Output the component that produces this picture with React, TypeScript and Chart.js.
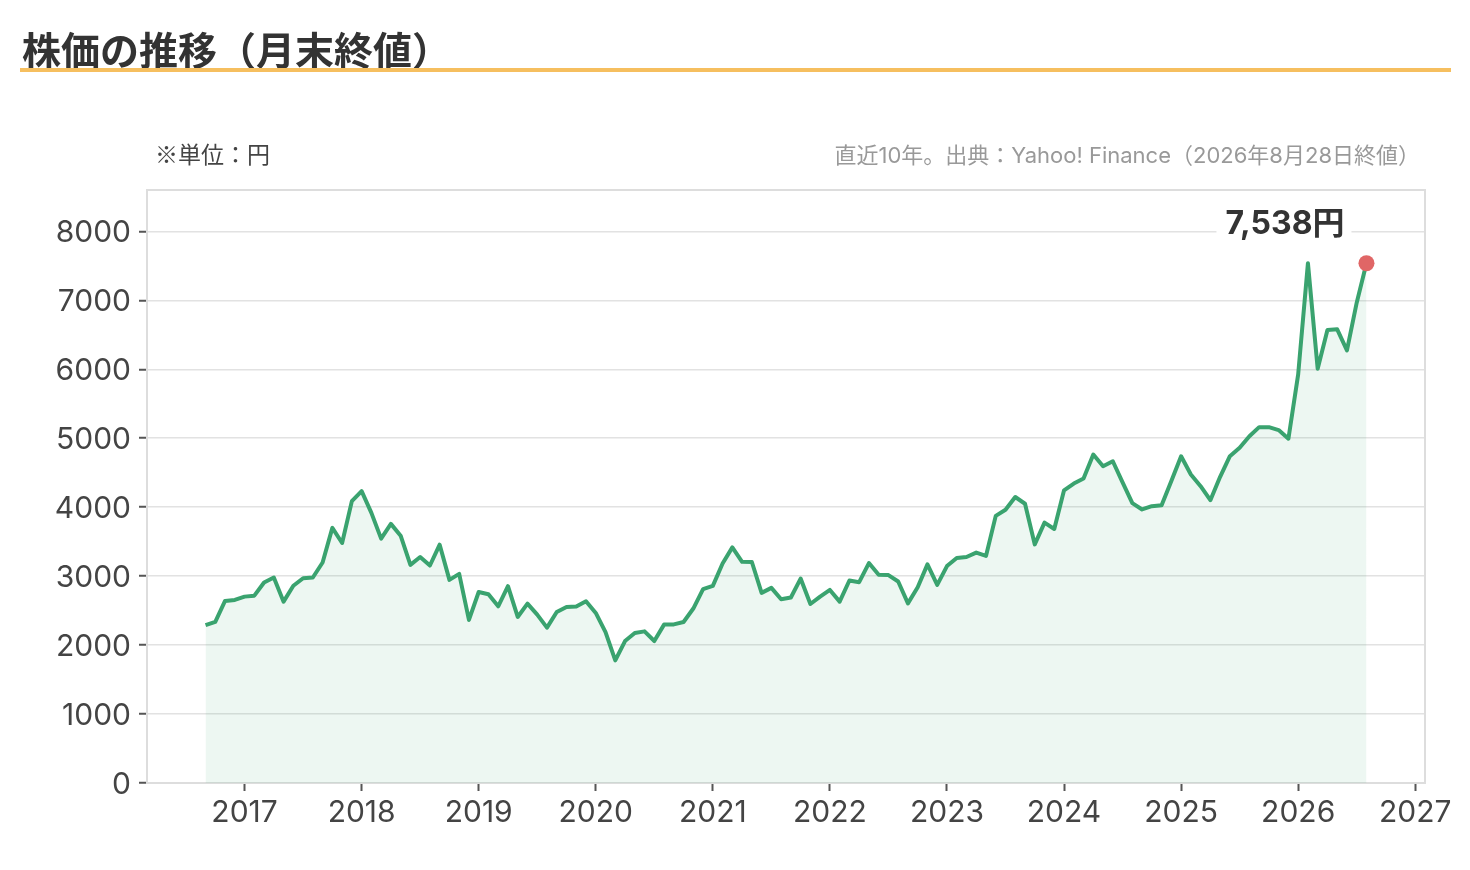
import { useEffect, useRef } from 'react'
import { Chart, registerables } from 'chart.js'

Chart.register(...registerables)

// 月末終値（円）。2016年は9月から
const FIRST_MONTH_2016 = 9
const close2016 = [2290, 2338, 2640, 2655]
const close2017 = [2703, 2717, 2907, 2980, 2630, 2860, 2970, 2980, 3198, 3700, 3481, 4088]
const close2018 = [4233, 3918, 3544, 3758, 3587, 3164, 3277, 3154, 3456, 2946, 3033, 2365]
const close2019 = [2770, 2738, 2563, 2854, 2408, 2602, 2442, 2253, 2480, 2553, 2560, 2636]
const close2020 = [2466, 2189, 1777, 2059, 2175, 2199, 2059, 2297, 2300, 2335, 2530, 2811]
const close2021 = [2859, 3184, 3417, 3208, 3205, 2757, 2830, 2665, 2690, 2965, 2596, 2703]
const close2022 = [2800, 2630, 2937, 2912, 3190, 3020, 3015, 2922, 2605, 2839, 3171, 2874]
const close2023 = [3146, 3264, 3278, 3342, 3293, 3874, 3962, 4148, 4050, 3460, 3776, 3684]
const close2024 = [4245, 4343, 4415, 4763, 4593, 4666, 4360, 4058, 3967, 4015, 4027, 4380]
const close2025 = [4738, 4475, 4305, 4102, 4441, 4740, 4862, 5030, 5161, 5161, 5118, 4993]
const close2026 = [5926, 7537, 6008, 6569, 6579, 6274, 6966, 7538]

const yearRows: [number, number[]][] = [
  [2016, close2016], [2017, close2017], [2018, close2018], [2019, close2019],
  [2020, close2020], [2021, close2021], [2022, close2022], [2023, close2023],
  [2024, close2024], [2025, close2025], [2026, close2026],
]

const xTickYears = [2017, 2018, 2019, 2020, 2021, 2022, 2023, 2024, 2025, 2026, 2027]
const yTickValues = [0, 1000, 2000, 3000, 4000, 5000, 6000, 7000, 8000]

const LINE = '#3aa36f'
const FONT = 'Inter, "Noto Sans CJK JP", sans-serif'
const JP_FONT = '"Noto Sans CJK JP", sans-serif'

// 月 → 小数年（例: 2018年1月 = 2018.0）
const points = yearRows.flatMap(([year, vals]) => {
  const first = year === 2016 ? FIRST_MONTH_2016 : 1
  return vals.map((v, i) => ({ x: year + (first - 1 + i) / 12, y: v }))
})

const areaBorder = {
  id: 'areaBorder',
  beforeDatasetsDraw(chart: any) {
    const { ctx, chartArea: a } = chart
    ctx.save()
    ctx.strokeStyle = '#dddddd'
    ctx.lineWidth = 2
    ctx.strokeRect(a.left, a.top, a.right - a.left, a.bottom - a.top)
    ctx.restore()
  },
}

const lastLabel = {
  id: 'lastLabel',
  afterDatasetsDraw(chart: any) {
    const meta = chart.getDatasetMeta(0)
    const pt = meta.data[meta.data.length - 1]
    if (!pt) return
    const val = points[points.length - 1].y
    const text = `${val.toLocaleString('ja-JP')}円`
    const { ctx } = chart
    ctx.save()
    ctx.font = `bold 32px ${FONT}`
    const w = ctx.measureText(text).width
    const right = pt.x - 22
    const cy = pt.y - 40
    ctx.fillStyle = '#ffffff'
    ctx.fillRect(right - w - 9, cy - 18, w + 16, 36)
    ctx.fillStyle = '#333333'
    ctx.textAlign = 'right'
    ctx.textBaseline = 'middle'
    ctx.fillText(text, right, cy + 1)
    ctx.restore()
  },
}

function StockChart() {
  const canvasRef = useRef<HTMLCanvasElement>(null)
  const chartRef = useRef<Chart | null>(null)

  useEffect(() => {
    if (!canvasRef.current) return
    const ctx = canvasRef.current.getContext('2d')
    if (!ctx) return

    chartRef.current?.destroy()

    chartRef.current = new Chart(ctx, {
      type: 'line',
      data: {
        datasets: [
          {
            label: '株価',
            data: points,
            borderColor: LINE,
            borderWidth: 4,
            borderJoinStyle: 'round',
            backgroundColor: 'rgba(58,163,111,0.09)',
            fill: 'origin',
            tension: 0,
            pointRadius: points.map((_, i) => (i === points.length - 1 ? 8 : 0)),
            pointBackgroundColor: '#e06666',
            pointBorderWidth: 0,
          } as any,
        ],
      },
      options: {
        responsive: true,
        maintainAspectRatio: false,
        animation: false,
        events: [],
        layout: { padding: { left: 0, right: 45, top: 190, bottom: 0 } },
        plugins: {
          legend: { display: false },
          tooltip: { enabled: false },
        },
        scales: {
          x: {
            type: 'linear',
            min: 2016 + 2 / 12,
            max: 2027 + 1 / 12,
            afterFit: (s: any) => { s.height = 87 },
            afterBuildTicks: (s: any) => { s.ticks = xTickYears.map(v => ({ value: v })) },
            ticks: {
              color: '#444444',
              font: { size: 30, family: FONT },
              padding: 4,
              maxRotation: 0,
              callback: (v: any) => String(v),
            },
            grid: { drawOnChartArea: false, tickLength: 8, tickColor: '#555555', tickWidth: 2 },
            border: { color: '#dddddd', width: 2 },
          },
          y: {
            min: 0,
            max: 8600,
            afterFit: (s: any) => { s.width = 147 },
            afterBuildTicks: (s: any) => { s.ticks = yTickValues.map(v => ({ value: v })) },
            ticks: {
              color: '#444444',
              font: { size: 30, family: FONT },
              padding: 8,
              labelOffset: 2,
              callback: (v: any) => String(v),
            },
            grid: { color: '#e2e2e2', lineWidth: 1.5, tickLength: 8, tickColor: '#555555', tickWidth: 2 },
            border: { color: '#dddddd', width: 2 },
          },
        },
      },
      plugins: [areaBorder, lastLabel],
    } as any)

    return () => {
      chartRef.current?.destroy()
      chartRef.current = null
    }
  }, [])

  return (
    <div style={{ position: 'absolute', left: 0, top: 0, width: 1470, height: 870 }}>
      <canvas ref={canvasRef} role="img" aria-label="株価の推移（月末終値）" />
    </div>
  )
}

export default function App() {
  return (
    <div style={{ position: 'absolute', left: 0, top: 0, width: 1470, height: 870, background: '#fff', fontFamily: FONT, overflow: 'hidden' }}>
      <StockChart />
      <div style={{ position: 'absolute', left: 22, top: 28, fontSize: 39, lineHeight: '40px', fontWeight: 700, color: '#333', fontFamily: JP_FONT }}>
        株価の推移（月末終値）
      </div>
      <div style={{ position: 'absolute', left: 20, top: 68, width: 1431, height: 4, background: '#f6bf5f' }} />
      <div style={{ position: 'absolute', left: 155, top: 141, fontSize: 23, lineHeight: '24px', color: '#444', fontFamily: JP_FONT }}>
        ※単位：円
      </div>
      <div style={{ position: 'absolute', right: 50, top: 143, fontSize: 22, lineHeight: '24px', color: '#999' }}>
        直近10年。出典：Yahoo! Finance（2026年8月28日終値）
      </div>
    </div>
  )
}
